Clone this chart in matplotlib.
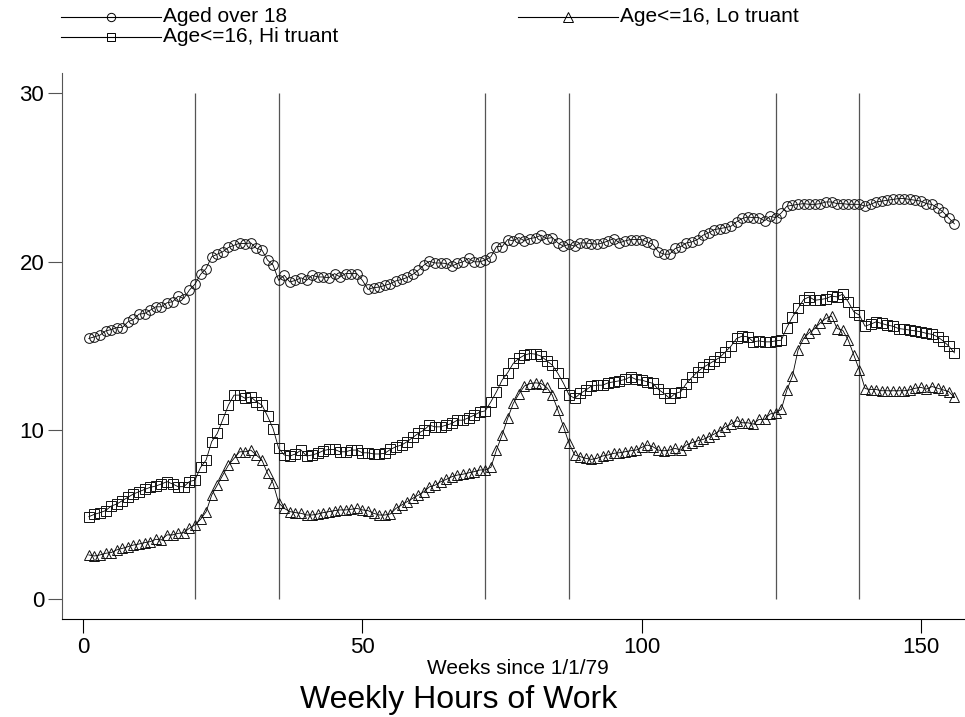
import numpy as np
import matplotlib
matplotlib.use("Agg")
import matplotlib.pyplot as plt
from matplotlib.lines import Line2D

plt.rcParams['font.family'] = ['Liberation Sans', 'DejaVu Sans']

# -------------------------------
# DATA
# -------------------------------
weeks = np.arange(1, 157)

aged_over_18 = [
    15.45, 15.55, 15.65, 15.9, 15.98, 16.1, 16.1, 16.44, 16.58, 16.9,
    16.93, 17.13, 17.33, 17.33, 17.57, 17.63, 17.96, 17.82, 18.32, 18.67,
    19.25, 19.6, 20.3, 20.45, 20.6, 20.85, 20.98, 21.1, 21.08, 21.12,
    20.8, 20.7, 20.1, 19.8, 18.9, 19.2, 18.8, 18.9, 19.05, 18.9,
    19.2, 19.1, 19.1, 19.05, 19.3, 19.1, 19.3, 19.3, 19.3, 18.9,
    18.36, 18.47, 18.5, 18.6, 18.7, 18.87, 18.95, 19.07, 19.25, 19.5,
    19.8, 20.03, 19.93, 19.93, 19.9, 19.74, 19.9, 20.0, 20.2, 20.0,
    20.0, 20.1, 20.3, 20.9, 20.9, 21.32, 21.24, 21.44, 21.24, 21.38,
    21.44, 21.58, 21.38, 21.44, 21.12, 20.92, 21.04, 20.92, 21.12, 21.12,
    21.08, 21.04, 21.12, 21.24, 21.38, 21.12, 21.24, 21.32, 21.32, 21.32,
    21.18, 21.04, 20.59, 20.45, 20.45, 20.79, 20.9, 21.12, 21.18, 21.32,
    21.58, 21.72, 21.91, 21.97, 22.03, 22.11, 22.37, 22.57, 22.66, 22.62,
    22.62, 22.43, 22.7, 22.62, 22.9, 23.3, 23.35, 23.41, 23.45, 23.41,
    23.41, 23.45, 23.55, 23.55, 23.45, 23.45, 23.41, 23.41, 23.41, 23.3,
    23.41, 23.55, 23.6, 23.65, 23.7, 23.75, 23.75, 23.7, 23.65, 23.6,
    23.45, 23.4, 23.2, 22.95, 22.6, 22.25,
]

lo_truant = [
    2.61, 2.55, 2.61, 2.71, 2.75, 2.91, 3.0, 3.1, 3.2, 3.26,
    3.34, 3.4, 3.54, 3.5, 3.8, 3.8, 3.89, 3.93, 4.19, 4.39,
    4.72, 5.17, 6.16, 6.76, 7.35, 7.94, 8.34, 8.73, 8.73, 8.83,
    8.53, 8.24, 7.45, 6.86, 5.7, 5.37, 5.18, 5.12, 5.08, 4.98,
    4.98, 5.04, 5.12, 5.18, 5.24, 5.28, 5.28, 5.32, 5.37, 5.28,
    5.24, 5.08, 4.98, 4.98, 5.04, 5.37, 5.57, 5.77, 5.97, 6.16,
    6.36, 6.65, 6.75, 6.95, 7.09, 7.25, 7.35, 7.4, 7.48, 7.55,
    7.65, 7.65, 7.81, 8.84, 9.72, 10.71, 11.6, 12.15, 12.63, 12.78,
    12.82, 12.78, 12.55, 12.09, 11.2, 10.22, 9.23, 8.54, 8.44, 8.34,
    8.28, 8.34, 8.48, 8.54, 8.64, 8.67, 8.73, 8.79, 8.83, 8.99,
    9.13, 9.03, 8.83, 8.79, 8.83, 8.93, 8.83, 9.13, 9.27, 9.38,
    9.46, 9.62, 9.78, 9.98, 10.21, 10.37, 10.57, 10.45, 10.45, 10.37,
    10.65, 10.65, 10.97, 11.05, 11.24, 12.39, 13.22, 14.76, 15.45, 15.79,
    16.04, 16.38, 16.64, 16.78, 16.04, 15.94, 15.35, 14.46, 13.57, 12.48,
    12.42, 12.42, 12.35, 12.35, 12.35, 12.35, 12.35, 12.4, 12.5, 12.55,
    12.45, 12.6, 12.5, 12.4, 12.3, 11.95,
]

hi_truant = [
    4.88, 5.02, 5.12, 5.24, 5.51, 5.63, 5.83, 6.03, 6.23, 6.36,
    6.5, 6.62, 6.7, 6.82, 6.96, 6.82, 6.66, 6.66, 6.96, 7.05,
    7.8, 8.24, 9.33, 9.82, 10.65, 11.5, 12.09, 12.09, 11.9, 11.99,
    11.7, 11.5, 10.85, 10.1, 8.93, 8.54, 8.48, 8.6, 8.83, 8.48,
    8.54, 8.64, 8.8, 8.87, 8.87, 8.73, 8.73, 8.83, 8.83, 8.67,
    8.67, 8.6, 8.6, 8.64, 8.87, 9.03, 9.13, 9.33, 9.58, 9.82,
    10.02, 10.31, 10.21, 10.21, 10.31, 10.41, 10.61, 10.6, 10.75, 10.9,
    11.08, 11.16, 11.7, 12.29, 12.98, 13.42, 13.97, 14.27, 14.46, 14.56,
    14.52, 14.4, 14.13, 13.87, 13.38, 12.79, 12.1, 11.9, 12.19, 12.39,
    12.63, 12.68, 12.68, 12.82, 12.88, 12.94, 13.02, 13.18, 13.02, 12.98,
    12.88, 12.79, 12.43, 12.19, 11.9, 12.19, 12.29, 12.78, 13.14, 13.48,
    13.73, 13.93, 14.13, 14.33, 14.66, 15.0, 15.45, 15.59, 15.55, 15.25,
    15.31, 15.25, 15.25, 15.31, 15.35, 16.1, 16.73, 17.23, 17.76, 17.92,
    17.72, 17.76, 17.82, 17.96, 17.92, 18.08, 17.62, 17.03, 16.83, 16.18,
    16.3, 16.44, 16.34, 16.24, 16.18, 16.04, 16.0, 15.95, 15.9, 15.85,
    15.75, 15.7, 15.55, 15.3, 15.0, 14.6,
]

summer_weeks = [20, 35, 72, 87, 124, 139]

labels = ["Aged over 18", "Age<=16, Hi truant", "Age<=16, Lo truant"]

# -------------------------------
# FIGURE
# -------------------------------
W, H = 965, 717
fig = plt.figure(figsize=(W / 100, H / 100), dpi=100)
ax = fig.add_axes([62.3 / W, (H - 619) / H, (W - 62.3) / W, (619 - 73) / H])

ax.vlines(summer_weeks, 0, 30, color="#555555", lw=0.9)

line_kw = dict(color="black", lw=0.6, mfc="none", mec="#111111", mew=0.7)
ax.plot(weeks, aged_over_18, marker="o", ms=7, **line_kw)
ax.plot(weeks, hi_truant, marker="s", ms=6.5, **line_kw)
ax.plot(weeks, lo_truant, marker="^", ms=7.5, **line_kw)

ax.set_xlim(-3.75, 157.9)
ax.set_ylim(-1.19, 31.2)
ax.set_xticks([0, 50, 100, 150])
ax.set_yticks([0, 10, 20, 30])
ax.spines["top"].set_visible(False)
ax.spines["right"].set_visible(False)
ax.spines["left"].set_color("#555555")
ax.tick_params(direction="out", length=10, width=0.8, labelsize=16, pad=3)
ax.tick_params(axis="x", colors="black")
ax.tick_params(axis="y", color="#555555", labelcolor="black")

# axis title and chart title under the plot
fig.text(518 / W, 1 - 668 / H, "Weeks since 1/1/79", ha="center", va="center", fontsize=15)
fig.text(459 / W, 1 - 700 / H, "Weekly Hours of Work", ha="center", va="center", fontsize=23)

# -------------------------------
# LEGEND (drawn by hand, Stata style)
# -------------------------------
def legend_entry(x0, y, marker, ms, text):
    yf = 1 - y / H
    xs = [x0 / W, (x0 + 50) / W, (x0 + 100) / W]
    fig.add_artist(Line2D(xs, [yf] * 3, transform=fig.transFigure, color="black", lw=0.8,
                          marker=marker, ms=ms, markevery=[1], mfc="none", mec="black", mew=0.7))
    fig.text((x0 + 102) / W, yf, text, ha="left", va="center", fontsize=15)

legend_entry(61, 17, "o", 6, labels[0])
legend_entry(61, 37, "s", 6, labels[1])
legend_entry(518, 17, "^", 6.5, labels[2])

plt.savefig("out.png", dpi=100)
plt.close()
